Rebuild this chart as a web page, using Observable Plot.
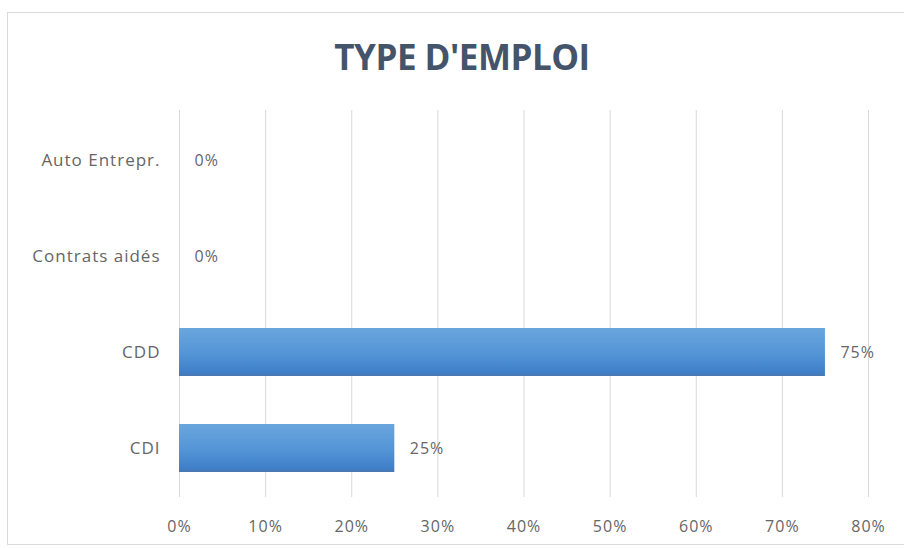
<!DOCTYPE html>
<html>
<head>
<meta charset="utf-8">
<script src="https://cdn.jsdelivr.net/npm/d3@7"></script>
<script src="https://cdn.jsdelivr.net/npm/@observablehq/plot@0.6"></script>
<style>
  html, body { margin: 0; padding: 0; background: #fff; }
  #wrap { position: relative; width: 904px; height: 548px; overflow: hidden; font-family: "Open Sans", sans-serif; }
  #frame { position: absolute; left: 7px; top: 12px; width: 900px; height: 533px; border: 1px solid #d9d9d9; box-sizing: border-box; }
  #title { position: absolute; left: 0; width: 924px; top: 33px; text-align: center; font-size: 35px; font-weight: 700; color: #44546a; letter-spacing: -0.5px; }
  #chart { position: absolute; left: 0; top: 0; }
</style>
</head>
<body>
<div id="wrap">
  <div id="frame"></div>
  <div id="title">TYPE D'EMPLOI</div>
  <div id="chart"></div>
</div>
<script>
const categories = ["Auto Entrepr.", "Contrats aidés", "CDD", "CDI"];
const values = [0, 0, 0.75, 0.25];
const xTicks = [0, 0.1, 0.2, 0.3, 0.4, 0.5, 0.6, 0.7, 0.8];

const data = categories.map((c, i) => ({category: c, value: values[i]}));
const pct = d => `${Math.round(d * 100)}%`;

const plot = Plot.plot({
  width: 904,
  height: 548,
  marginTop: 110,
  marginBottom: 51,
  marginLeft: 179,
  marginRight: 36,
  style: {fontFamily: "Open Sans, sans-serif", fontSize: "16px", letterSpacing: "1px", color: "#666666", background: "transparent"},
  x: {domain: [0, 0.8], ticks: xTicks, tickFormat: pct, tickSize: 0, tickPadding: 23, label: null},
  y: {domain: categories, paddingInner: 0.5, paddingOuter: 0.25, label: null, axis: null},
  marks: [
    Plot.ruleX(xTicks, {stroke: "#d9d9d9", strokeWidth: 1}),
    Plot.axisY({tickSize: 0, tickPadding: 19, fontSize: 17, label: null}),
    Plot.barX(data, {y: "category", x: "value", fill: "url(#barGrad)"}),
    Plot.text(data, {y: "category", x: "value", text: d => pct(d.value), dx: 15, textAnchor: "start", fill: "#666666", fontSize: 16})
  ]
});

const defs = d3.select(plot).insert("defs", ":first-child");
const g = defs.append("linearGradient").attr("id", "barGrad").attr("x1", 0).attr("y1", 0).attr("x2", 0).attr("y2", 1);
g.append("stop").attr("offset", "0%").attr("stop-color", "#6aa6de");
g.append("stop").attr("offset", "55%").attr("stop-color", "#5294d6");
g.append("stop").attr("offset", "92%").attr("stop-color", "#3f80c9");
g.append("stop").attr("offset", "100%").attr("stop-color", "#4a78b0");

document.getElementById("chart").appendChild(plot);
</script>
</body>
</html>
